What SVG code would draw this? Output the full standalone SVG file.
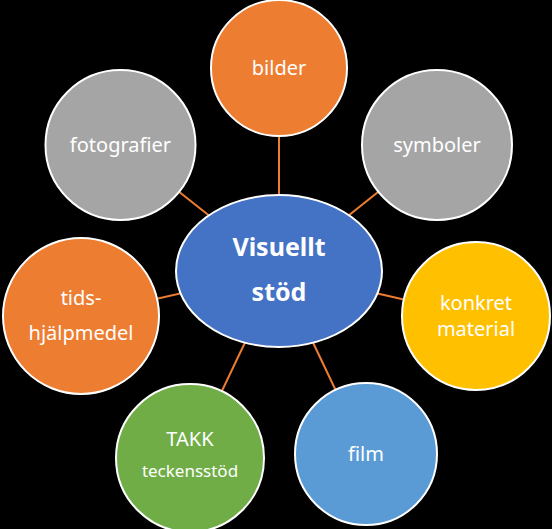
<svg xmlns="http://www.w3.org/2000/svg" width="552" height="529" viewBox="0 0 552 529">
<style>
.node{stroke:#fff;stroke-width:2}
.lbl{font-family:"Noto Sans","Open Sans",sans-serif;font-size:20px;fill:#fff;text-anchor:middle}
.small{font-size:17px}
.big{font-size:25px;font-weight:bold}
.conn line{stroke:#ED7D31;stroke-width:2}
</style>
<rect width="552" height="529" fill="#000"/>
<g id="connectors" class="conn">
<line x1="279" y1="271" x2="279" y2="68"/>
<line x1="279" y1="271" x2="120" y2="145"/>
<line x1="279" y1="271" x2="437" y2="145"/>
<line x1="279" y1="271" x2="81" y2="316"/>
<line x1="279" y1="271" x2="476" y2="316"/>
<line x1="279" y1="271" x2="190" y2="458"/>
<line x1="279" y1="271" x2="366" y2="454"/>
</g>
<g id="center">
<ellipse class="node" cx="279" cy="271" rx="103" ry="76" fill="#4472C4"/>
<text class="lbl big" x="279" y="256">Visuellt</text>
<text class="lbl big" x="279" y="301">stöd</text>
</g>
<g id="bilder">
<circle class="node" cx="279" cy="68" r="68" fill="#ED7D31"/>
<text class="lbl" x="279" y="75">bilder</text>
</g>
<g id="fotografier">
<circle class="node" cx="120.5" cy="145" r="75" fill="#A5A5A5"/>
<text class="lbl" x="120.5" y="152">fotografier</text>
</g>
<g id="symboler">
<circle class="node" cx="437" cy="145" r="75" fill="#A5A5A5"/>
<text class="lbl" x="437" y="152">symboler</text>
</g>
<g id="tidshjalpmedel">
<circle class="node" cx="81" cy="316" r="78" fill="#ED7D31"/>
<text class="lbl" x="81" y="305">tids-</text>
<text class="lbl" x="81" y="340">hjälpmedel</text>
</g>
<g id="konkret">
<circle class="node" cx="476" cy="316" r="74" fill="#FFC000"/>
<text class="lbl" x="476" y="310">konkret</text>
<text class="lbl" x="476" y="336">material</text>
</g>
<g id="takk">
<circle class="node" cx="190" cy="458" r="74" fill="#70AD47"/>
<text class="lbl" x="190" y="446">TAKK</text>
<text class="lbl small" x="190" y="477">teckensstöd</text>
</g>
<g id="film">
<circle class="node" cx="366" cy="454" r="71" fill="#5B9BD5"/>
<text class="lbl" x="366" y="461">film</text>
</g>
</svg>
